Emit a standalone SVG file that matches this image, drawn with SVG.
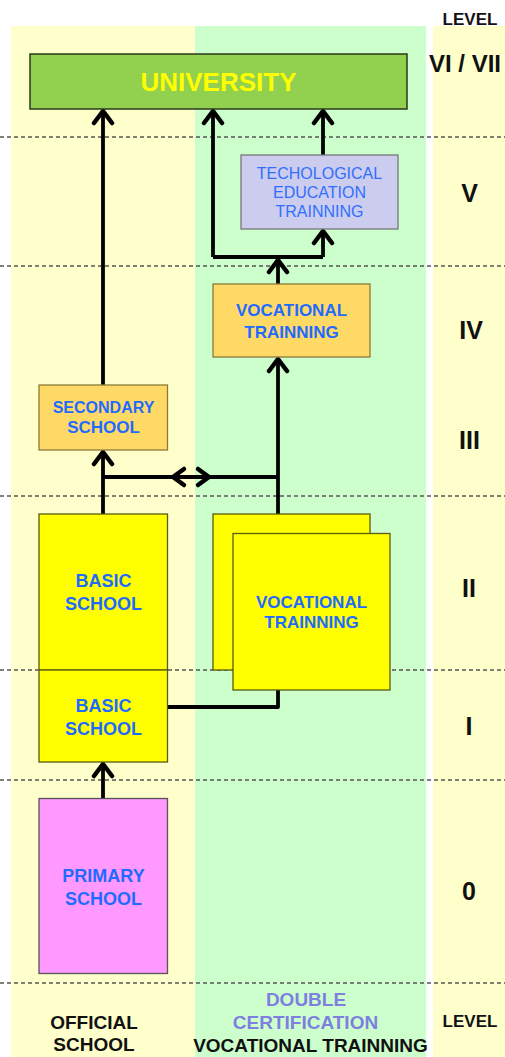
<svg xmlns="http://www.w3.org/2000/svg" width="505" height="1057" viewBox="0 0 505 1057">
<style>
text{font-family:"Liberation Sans",Arial,sans-serif;text-anchor:middle}
.b{font-weight:bold}
.blue{fill:#1F6BFF;font-weight:bold;font-size:17px}
.lvl{font-weight:bold;font-size:25px;fill:#111}
.dash{stroke:#555;stroke-width:1.3;stroke-dasharray:4 3;fill:none}
.con{stroke:#000;stroke-width:3.8;fill:none;stroke-linejoin:round}
.arr{marker-end:url(#ah)}
.yel{fill:#FFFF00;stroke:#5A5A10;stroke-width:1.3}
.org{fill:#FFD966;stroke:#8C7A3A;stroke-width:1.3}
</style>
<defs>
<marker id="ah" markerUnits="userSpaceOnUse" viewBox="-16 -12 20 24" markerWidth="20" markerHeight="24" refX="0" refY="0" orient="auto">
<path d="M-12,-9 L0,0 L-12,9" fill="none" stroke="#000" stroke-width="4.5" stroke-linejoin="round" stroke-linecap="round"/>
</marker>
</defs>
<g id="background">
<rect x="0" y="0" width="505" height="1057" fill="#fff"/>
<rect x="11" y="26" width="184" height="1031" fill="#FFFFCC"/>
<rect x="195" y="26" width="231" height="1031" fill="#CCFFCC"/>
<rect x="433" y="26" width="72" height="1031" fill="#FFFFCC"/>
</g>
<g id="level-lines">
<line class="dash" x1="0" y1="137" x2="505" y2="137"/>
<line class="dash" x1="0" y1="266" x2="505" y2="266"/>
<line class="dash" x1="0" y1="496" x2="505" y2="496"/>
<line class="dash" x1="0" y1="670" x2="505" y2="670"/>
<line class="dash" x1="0" y1="780" x2="505" y2="780"/>
<line class="dash" x1="0" y1="983" x2="505" y2="983"/>
</g>
<g id="connectors">
<path class="con arr" d="M103,385 L103,111"/>
<path class="con arr" d="M213,257 L213,111"/>
<path class="con" d="M213,257 L323,257"/>
<path class="con arr" d="M323,257 L323,231"/>
<path class="con arr" d="M323,155 L323,111"/>
<path class="con arr" d="M278,284 L278,260"/>
<path class="con arr" d="M278,514 L278,359"/>
<path class="con arr" d="M103,514 L103,452"/>
<path class="con" d="M103,477 L278,477"/>
<path d="M184,469 L173,477 L184,485 M198,469 L209,477 L198,485" fill="none" stroke="#000" stroke-width="4.5" stroke-linejoin="round" stroke-linecap="round"/>
<path class="con" d="M167,707 L278,707 L278,690"/>
<path class="con arr" d="M103,798 L103,764"/>
</g>
<g id="university">
<rect x="30" y="54" width="377" height="55" fill="#92D050" stroke="#2A3A1A" stroke-width="1.5"/>
<text x="218.5" y="91" class="b" font-size="26" fill="#FFFF00">UNIVERSITY</text>
</g>
<g id="technological">
<rect x="241" y="155" width="157" height="74" fill="#CCCCEE" stroke="#777" stroke-width="1.3"/>
<text x="319.5" y="179" font-size="16" fill="#2F6FFF">TECHOLOGICAL</text>
<text x="319.5" y="197.5" font-size="16" fill="#2F6FFF">EDUCATION</text>
<text x="319.5" y="217" font-size="16" fill="#2F6FFF">TRAINNING</text>
</g>
<g id="vocational-iv">
<rect class="org" x="213" y="284" width="157" height="73"/>
<text x="291.5" y="315.5" class="blue">VOCATIONAL</text>
<text x="291.5" y="337.5" class="blue">TRAINNING</text>
</g>
<g id="secondary">
<rect class="org" x="39" y="385" width="128.5" height="65"/>
<text x="103.5" y="413" class="blue" style="font-size:16px">SECONDARY</text>
<text x="103.5" y="433" class="blue">SCHOOL</text>
</g>
<g id="basic-ii">
<rect class="yel" x="39" y="514" width="128.5" height="156"/>
<text x="103.5" y="586.5" class="blue" style="font-size:18px">BASIC</text>
<text x="103.5" y="610" class="blue" style="font-size:18px">SCHOOL</text>
</g>
<g id="basic-i">
<rect class="yel" x="39" y="670" width="128.5" height="92"/>
<text x="103.5" y="711.5" class="blue" style="font-size:18px">BASIC</text>
<text x="103.5" y="735" class="blue" style="font-size:18px">SCHOOL</text>
</g>
<g id="vocational-ii">
<rect class="yel" x="213" y="514" width="157" height="156"/>
<rect class="yel" x="233" y="533.5" width="157" height="156.5"/>
<text x="311.5" y="608" class="blue">VOCATIONAL</text>
<text x="311.5" y="628" class="blue">TRAINNING</text>
</g>
<g id="primary">
<rect x="39" y="798.5" width="128.5" height="175" fill="#FF99FF" stroke="#555" stroke-width="1.3"/>
<text x="103.5" y="881.5" class="blue" style="font-size:18px">PRIMARY</text>
<text x="103.5" y="905" class="blue" style="font-size:18px">SCHOOL</text>
</g>
<g id="levels">
<text x="470" y="25" class="b" font-size="17" fill="#111">LEVEL</text>
<text x="465" y="72" class="lvl" style="font-size:24px">VI / VII</text>
<text x="469.5" y="201.5" class="lvl">V</text>
<text x="471" y="339" class="lvl">IV</text>
<text x="469.5" y="449" class="lvl">III</text>
<text x="469" y="597" class="lvl">II</text>
<text x="469" y="735" class="lvl">I</text>
<text x="469" y="900" class="lvl">0</text>
<text x="470" y="1027" class="b" font-size="17" fill="#111">LEVEL</text>
</g>
<g id="column-labels">
<text x="94" y="1029" class="b" font-size="19" fill="#111">OFFICIAL</text>
<text x="94" y="1051" class="b" font-size="19" fill="#111">SCHOOL</text>
<text x="306" y="1005.5" class="b" font-size="19" fill="#7F7FE0">DOUBLE</text>
<text x="305.5" y="1029" class="b" font-size="19" fill="#7F7FE0">CERTIFICATION</text>
<text x="310.5" y="1052" class="b" font-size="19" fill="#111">VOCATIONAL TRAINNING</text>
</g>
</svg>
